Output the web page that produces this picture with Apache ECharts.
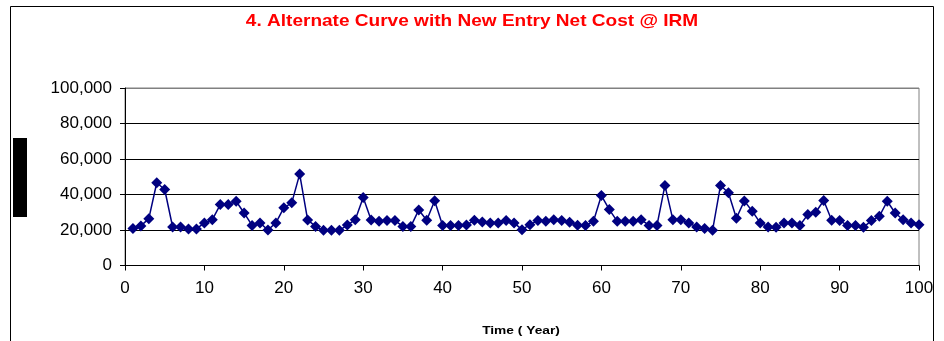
<!DOCTYPE html>
<html>
<head>
<meta charset="utf-8">
<script src="https://cdn.jsdelivr.net/npm/echarts@6/dist/echarts.min.js"></script>
<style>
  html, body { margin: 0; padding: 0; background: #fff; }
  #chart { width: 944px; height: 341px; }
</style>
</head>
<body>
<div id="chart"></div>
<script>
// Simulation years 1..100
const years = Array.from({ length: 100 }, (_, i) => i + 1);

// Net cost at IRM per year
const netCost = [
  20800, 22300, 26400, 46600, 42800, 21700, 21700, 20600, 20600, 24000,
  25800, 34300, 34300, 36200, 29600, 22600, 24000, 20000, 24000, 32500,
  35300, 51500, 25700, 22000, 19800, 19800, 19800, 22800, 25800, 38300,
  25700, 24900, 25300, 25300, 22000, 22000, 31300, 25500, 36500, 22500,
  22500, 22500, 22800, 25500, 24500, 24000, 24000, 25300, 24000, 20200,
  23000, 25300, 24900, 25800, 25300, 24300, 22700, 22600, 24900, 39400,
  31500, 24900, 24900, 24900, 25800, 22600, 22600, 45100, 25800, 25800,
  24000, 21700, 20800, 19800, 45100, 41000, 26600, 36400, 30600, 24000,
  21700, 21500, 24000, 24000, 22600, 28700, 30000, 36600, 25500, 25300,
  22600, 22600, 21500, 25300, 27700, 36200, 29600, 25800, 24000, 23000
];

const titleText = '4. Alternate Curve with New Entry Net Cost @ IRM';
const xAxisTitle = 'Time ( Year)';

const chart = echarts.init(document.getElementById('chart'), null, { renderer: 'canvas' });

const fontFamily = '"Liberation Sans", Arial, sans-serif';

chart.setOption({
  animation: false,
  backgroundColor: '#ffffff',
  graphic: [
    // chart-area frame
    {
      type: 'rect',
      shape: { x: 10.5, y: 6.5, width: 923, height: 345 },
      style: { fill: 'none', stroke: '#000', lineWidth: 1 },
      silent: true
    },
    // black block at the left edge
    {
      type: 'rect',
      shape: { x: 13, y: 138, width: 14, height: 79 },
      style: { fill: '#000' },
      silent: true
    },
    // chart title, widely tracked
    {
      type: 'text',
      x: 472,
      y: 21,
      scaleX: 1.12,
      silent: true,
      style: {
        text: titleText,
        fill: '#ff0000',
        font: 'bold 17px ' + fontFamily,
        align: 'center',
        verticalAlign: 'middle'
      }
    },
    // x-axis title, widely tracked
    {
      type: 'text',
      x: 521,
      y: 331,
      scaleX: 1.25,
      silent: true,
      style: {
        text: xAxisTitle,
        fill: '#000',
        font: 'bold 11px ' + fontFamily,
        align: 'center',
        verticalAlign: 'middle'
      }
    }
  ],
  grid: {
    left: 125,
    right: 25,
    top: 88,
    bottom: 75.5,
    show: true,
    borderColor: '#808080',
    borderWidth: 1,
    containLabel: false
  },
  xAxis: {
    type: 'value',
    min: 0,
    max: 100,
    interval: 10,
    axisLine: { lineStyle: { color: '#000', width: 1 } },
    axisTick: { show: true, length: 5, lineStyle: { color: '#000' } },
    axisLabel: {
      margin: 14,
      fontFamily: fontFamily,
      fontSize: 17,
      color: '#000'
    },
    splitLine: { show: false }
  },
  yAxis: {
    type: 'value',
    min: 0,
    max: 100000,
    interval: 20000,
    axisLine: { show: true, lineStyle: { color: '#000', width: 1 } },
    axisTick: { show: true, length: 5, lineStyle: { color: '#000' } },
    axisLabel: {
      margin: 13,
      fontFamily: fontFamily,
      fontSize: 17,
      color: '#000',
      formatter: v => v.toLocaleString('en-US')
    },
    splitLine: {
      show: true,
      lineStyle: { color: ['#000', '#000', '#000', '#000', '#000', '#808080'], width: 1 }
    }
  },
  series: [
    {
      type: 'line',
      data: years.map((y, i) => [y, netCost[i]]),
      symbol: 'diamond',
      symbolSize: 11,
      showAllSymbol: true,
      clip: false,
      itemStyle: { color: '#000080' },
      lineStyle: { color: '#000080', width: 1.5 }
    }
  ]
});
</script>
</body>
</html>
